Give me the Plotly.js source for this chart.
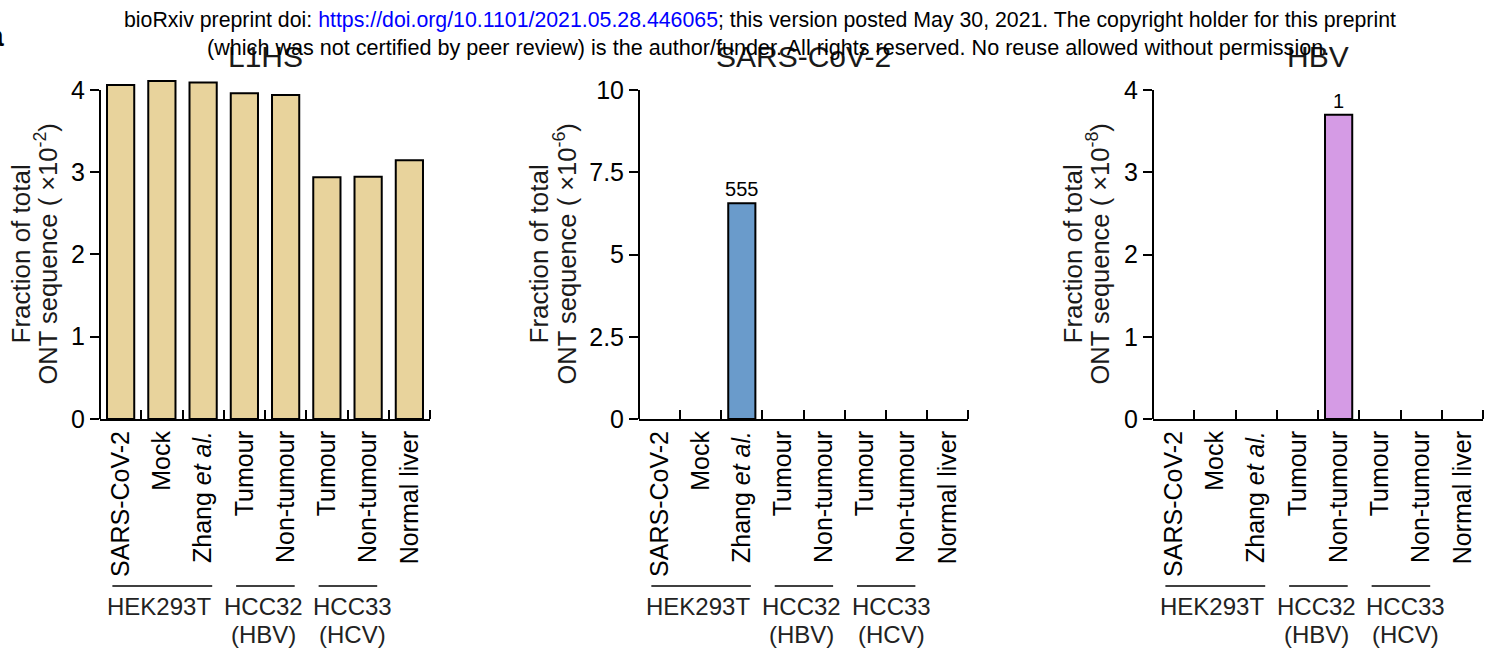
<!DOCTYPE html>
<html>
<head>
<meta charset="utf-8">
<script src="https://cdn.plot.ly/plotly-3.0.1.min.js"></script>
<style>html,body{margin:0;padding:0;background:#fff;}</style>
</head>
<body>
<div id="chart" style="width:1496px;height:649px;"></div>
<script>
// ---- data ----
const categories = ['SARS-CoV-2', 'Mock', 'Zhang <i>et al.</i>', 'Tumour', 'Non-tumour', 'Tumour', 'Non-tumour', 'Normal liver'];
const panelTitles = ['L1HS', 'SARS-CoV-2', 'HBV'];
const l1hsValues = [4.06, 4.11, 4.09, 3.96, 3.94, 2.94, 2.945, 3.145];   // x10^-2
const sarsValues = [0, 0, 6.56, 0, 0, 0, 0, 0];                          // x10^-6
const sarsCounts = ['', '', '555', '', '', '', '', ''];
const hbvValues = [0, 0, 0, 0, 3.70, 0, 0, 0];                           // x10^-8
const hbvCounts = ['', '', '', '', '1', '', '', ''];
const yExponents = ['-2', '-6', '-8'];
const yRanges = [[0, 4], [0, 10], [0, 4]];
const yTickVals = [[0, 1, 2, 3, 4], [0, 2.5, 5, 7.5, 10], [0, 1, 2, 3, 4]];
const yTickText = [['0', '1', '2', '3', '4'], ['0', '2.5', '5', '7.5', '10'], ['0', '1', '2', '3', '4']];
const groupNames = ['HEK293T', 'HCC32', 'HCC33'];
const groupSubNames = ['', '(HBV)', '(HCV)'];
const groupFirst = [0, 3, 5];
const groupLast = [2, 4, 6];
const headerLine1 = 'bioRxiv preprint doi: <span style="color:#0000ff">https://doi.org/10.1101/2021.05.28.446065</span>; this version posted May 30, 2021. The copyright holder for this preprint';
const headerLine2 = '(which was not certified by peer review) is the author/funder. All rights reserved. No reuse allowed without permission.';

// ---- layout helpers ----
const W = 1496, H = 649;
const px = v => v / W;
const py = v => 1 - v / H;
const FONT = 'Liberation Sans, Arial, Helvetica, sans-serif';
const xDomPx = [[100, 430], [639, 968], [1153, 1483]];
const plotTop = 90, plotBottom = 419;
const titleOffsets = [[80, 54], [101, 74], [81, 55]];
const groupLabelShift = [-0.08, -0.05, 0.12];
const colors = ['#E8D39C', '#6A9BCB', '#D59BE5'];
const values = [l1hsValues, sarsValues, hbvValues];
const counts = [null, sarsCounts, hbvCounts];

const idx = categories.map((_, i) => i);
const boundaries = [-0.5].concat(categories.map((_, i) => i + 0.5));

const traces = [];
const layout = {
  width: W, height: H,
  margin: {l: 0, r: 0, t: 0, b: 0},
  paper_bgcolor: '#ffffff', plot_bgcolor: 'rgba(0,0,0,0)',
  showlegend: false,
  bargap: 0.34,
  font: {family: FONT, color: '#000'},
  annotations: [], shapes: []
};

for (let p = 0; p < 3; p++) {
  const sfx = p === 0 ? '' : String(p + 1);
  const vals = values[p];
  const rTop = yRanges[p][1];
  const extTop = Math.max(rTop, Math.max(...vals) * 1.012);
  const topPx = plotBottom - (plotBottom - plotTop) * extTop / rTop;

  const t = {
    type: 'bar', x: idx, y: vals,
    xaxis: 'x' + sfx, yaxis: 'y' + sfx,
    marker: {color: colors[p], line: {color: '#000', width: vals.map(v => v > 0 ? 2 : 0)}},
    cliponaxis: false, hoverinfo: 'skip'
  };
  if (counts[p]) {
    t.text = counts[p];
    t.textposition = 'outside';
    t.textfont = {size: 20, color: '#000', family: FONT};
    t.constraintext = 'none';
  }
  traces.push(t);

  layout['xaxis' + sfx] = {
    domain: [px(xDomPx[p][0]), px(xDomPx[p][1])],
    anchor: 'y' + sfx, type: 'linear', range: [-0.5, 7.5],
    tickmode: 'array', tickvals: idx, ticktext: categories, tickangle: -90,
    ticks: '', tickfont: {size: 25, color: '#000', family: FONT},
    minor: {tickmode: 'array', tickvals: boundaries, ticks: 'inside', ticklen: 9, tickwidth: 2, tickcolor: '#000', showgrid: false},
    showline: true, linewidth: 2, linecolor: '#000',
    showgrid: false, zeroline: false, fixedrange: true, automargin: false
  };
  layout['yaxis' + sfx] = {
    domain: [py(plotBottom), py(topPx)],
    anchor: 'x' + sfx, range: [0, extTop],
    tickmode: 'array', tickvals: yTickVals[p], ticktext: yTickText[p],
    ticks: 'outside', ticklen: 9, tickwidth: 2, tickcolor: '#000',
    tickfont: {size: 25, color: '#000', family: FONT},
    showline: false,
    showgrid: false, zeroline: false, fixedrange: true, automargin: false
  };
  // y-axis line from 0 to the top tick
  layout.shapes.push({
    type: 'line', xref: 'paper', yref: 'y' + sfx,
    x0: px(xDomPx[p][0]), x1: px(xDomPx[p][0]), y0: 0, y1: rTop,
    line: {color: '#000', width: 2}
  });

  // panel title
  layout.annotations.push({
    text: panelTitles[p], xref: 'paper', yref: 'paper',
    x: px((xDomPx[p][0] + xDomPx[p][1]) / 2), y: py(57),
    xanchor: 'center', yanchor: 'middle', showarrow: false,
    font: {size: 30, color: '#1a1a1a', family: FONT}
  });
  // y-axis titles (two lines)
  const yc = py((plotTop + plotBottom) / 2);
  layout.annotations.push({
    text: 'Fraction of total', xref: 'paper', yref: 'paper',
    x: px(xDomPx[p][0] - titleOffsets[p][0]), y: yc, textangle: -90,
    xanchor: 'center', yanchor: 'middle', showarrow: false,
    font: {size: 26, color: '#1a1a1a', family: FONT}
  });
  layout.annotations.push({
    text: 'ONT sequence ( ×10<sup>' + yExponents[p] + '</sup>)', xref: 'paper', yref: 'paper',
    x: px(xDomPx[p][0] - titleOffsets[p][1]), y: yc, textangle: -90,
    xanchor: 'center', yanchor: 'middle', showarrow: false,
    font: {size: 25.5, color: '#1a1a1a', family: FONT}
  });
  // group brackets
  for (let g = 0; g < groupNames.length; g++) {
    const x0 = groupFirst[g] - 0.2, x1 = groupLast[g] + 0.22;
    const xm = (x0 + x1) / 2 + groupLabelShift[g];
    layout.shapes.push({
      type: 'line', xref: 'x' + sfx, yref: 'paper',
      x0: x0, x1: x1, y0: py(586), y1: py(586),
      line: {color: '#000', width: 1.5}
    });
    layout.annotations.push({
      text: groupNames[g], xref: 'x' + sfx, yref: 'paper',
      x: xm, y: py(606), xanchor: 'center', yanchor: 'middle',
      showarrow: false, font: {size: 24, color: '#222', family: FONT}
    });
    if (groupSubNames[g]) {
      layout.annotations.push({
        text: groupSubNames[g], xref: 'x' + sfx, yref: 'paper',
        x: xm, y: py(634), xanchor: 'center', yanchor: 'middle',
        showarrow: false, font: {size: 24, color: '#222', family: FONT}
      });
    }
  }
}

// header text
layout.annotations.push({
  text: headerLine1, xref: 'paper', yref: 'paper', x: px(760), y: py(20),
  xanchor: 'center', yanchor: 'middle', showarrow: false,
  font: {size: 21.3, color: '#000', family: FONT}
});
layout.annotations.push({
  text: headerLine2, xref: 'paper', yref: 'paper', x: px(768), y: py(47),
  xanchor: 'center', yanchor: 'middle', showarrow: false,
  font: {size: 21.6, color: '#000', family: FONT}
});
layout.annotations.push({
  text: '<b>a</b>', xref: 'paper', yref: 'paper', x: px(6), y: py(36),
  xanchor: 'right', yanchor: 'middle', showarrow: false,
  font: {size: 30, color: '#000', family: FONT}
});

Plotly.newPlot('chart', traces, layout, {displayModeBar: false, staticPlot: true});
</script>
</body>
</html>
